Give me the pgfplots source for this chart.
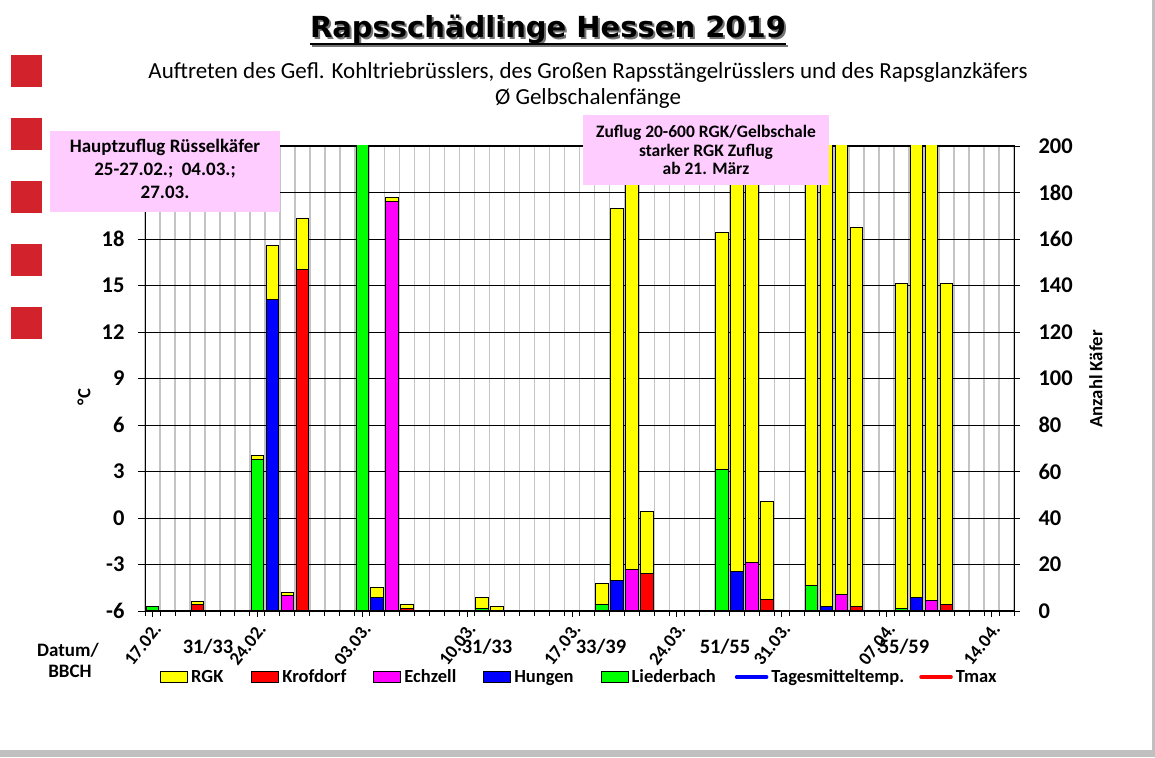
\documentclass[border=0pt]{standalone}
\usepackage{fontspec}
\setmainfont{Carlito}
\newfontfamily\titlefont{DejaVu Sans}
\usepackage{pgfplots}
\pgfplotsset{compat=1.18}
\usepackage{pgfplotstable}
\definecolor{pinkbox}{HTML}{FFCCFF}
\definecolor{sq}{RGB}{210,35,45}
\definecolor{gridgray}{HTML}{C4C4C4}
\definecolor{framegray}{HTML}{C0C0C0}
\definecolor{cY}{RGB}{255,255,0}
\definecolor{cR}{RGB}{255,0,0}
\definecolor{cM}{RGB}{255,0,255}
\definecolor{cB}{RGB}{0,0,255}
\definecolor{cG}{RGB}{0,255,0}
\newcommand{\fs}[1]{\fontsize{#1}{#1}\selectfont}
\pgfplotsset{
  boxlegend/.style={legend image code/.code={\draw[##1] (0pt,-5.5pt) rectangle (27pt,5.5pt);}},
  linelegend/.style={legend image code/.code={\draw[##1] (0pt,0pt) -- (30pt,0pt);}},
}
\pgfplotstableread{
s L H E K R
0 2 0 0 0 0
3 0 0 0 2.7 1.2
7 65 0 0 0 2
8 0 134 0 0 23
9 0 0 6.5 0 1.5
10 0 0 0 147 22
14 250 0 0 0 0
15 0 6 0 0 4
16 0 0 176 0 2
17 0 0 0 1 2
22 1 0 0 0 4.7
23 0 0 0 0 2
30 3 0 0 0 9
31 0 13 0 0 160
32 0 0 18 0 250
33 0 0 0 16 27
38 61 0 0 0 102
39 0 17 0 0 250
40 0 0 21 0 250
41 0 0 0 5 42
44 11 0 0 0 250
45 0 2 0 0 250
46 0 0 7 0 250
47 0 0 0 2 163
50 1 0 0 0 140
51 0 6 0 0 250
52 0 0 4.7 0 250
53 0 0 0 3 138
}\data
\begin{document}
\begin{tikzpicture}[x=1pt,y=1pt]
\path[use as bounding box] (0,0) rectangle (1155,757);
\fill[white] (0,0) rectangle (1155,757);
\fill[framegray] (1152,0) rectangle (1155,757);
\fill[framegray] (0,0) rectangle (1155,7);
\foreach \t in {55,118,181,244,307}{
  \fill[sq] (11,{757-\t-32}) rectangle (42,{757-\t});
}
% title
\node[anchor=base, inner sep=0, font=\titlefont\bfseries\fs{29}, text=black!55] (TS) at (550,717) {Rapsschädlinge Hessen 2019};
\draw[black!55, line width=2.5pt] ([yshift=-6pt]TS.base west) -- ([yshift=-6pt]TS.base east);
\node[anchor=base, inner sep=0, font=\titlefont\bfseries\fs{29}] (T) at (548,719) {Rapsschädlinge Hessen 2019};
\draw[black, line width=2.5pt] ([yshift=-6pt]T.base west) -- ([yshift=-6pt]T.base east);
\node[anchor=base, inner sep=0, font=\fs{23}] at (588,678) {Auftreten des Gefl. Kohltriebrüsslers, des Großen Rapsstängelrüsslers und des Rapsglanzkäfers};
\node[anchor=base, inner sep=0, font=\fs{23}] at (588,652) {Ø Gelbschalenfänge};

\begin{axis}[
  at={(145pt,146pt)}, anchor=south west,
  width=869pt, height=465pt, scale only axis,
  xmin=-0.5, xmax=57.5, ymin=0, ymax=200,
  enlargelimits=false,
  ybar stacked, bar width=12.5pt,
  xtick={0,7,...,56},
  xticklabels={17.02.,24.02.,03.03.,10.03.,17.03.,24.03.,31.03.,07.04.,14.04.},
  minor xtick={-0.5,0.5,...,57.5},
  xtick pos=left,
  ytick={0,20,...,200}, ytick pos=right, yticklabel pos=right,
  yticklabels={0,20,40,60,80,100,120,140,160,180,200},
  tick align=outside,
  major tick length=6pt, minor tick length=5pt,
  xmajorgrids=false, xminorgrids, ymajorgrids,
  minor grid style={gridgray, line width=1.5pt},
  major grid style={black, line width=0.8pt},
  axis line style={black, line width=1pt},
  tick style={black, line width=0.8pt},
  yticklabel style={font=\bfseries\fs{22.5}, anchor=west, xshift=15pt},
  xticklabel style={xshift=7pt, yshift=-6pt, rotate=52, anchor=east, font=\bfseries\fs{18.5}},
  ylabel={Anzahl Käfer},
  ylabel style={font=\bfseries\fs{18.7}, at={(axis description cs:1.0943,0.499)}, anchor=center},
  every axis plot/.append style={draw=black, line width=1pt},
]
\addplot[fill=cG] table[x=s, y=L] \data;
\addplot[fill=cB] table[x=s, y=H] \data;
\addplot[fill=cM] table[x=s, y=E] \data;
\addplot[fill=cR] table[x=s, y=K] \data;
\addplot[fill=cY] table[x=s, y=R] \data;
\end{axis}

\begin{axis}[
  at={(145pt,146pt)}, anchor=south west,
  width=869pt, height=465pt, scale only axis,
  xmin=-0.5, xmax=57.5, ymin=-6, ymax=24,
  enlargelimits=false,
  axis x line*=bottom, axis y line*=left,
  xtick=\empty,
  minor xtick={0,1,...,57},
  minor tick length=5pt,
  ytick={-6,-3,...,18},
  yticklabels={-6,-3,0,3,6,9,12,15,18},
  tick align=outside, major tick length=7pt,
  axis line style={black, line width=1pt},
  tick style={black, line width=0.8pt},
  yticklabel style={font=\bfseries\fs{22.5}, anchor=east, xshift=-10pt},
  ylabel={°C},
  ylabel style={font=\bfseries\fs{18.7}, at={(axis description cs:-0.0702,0.46)}, anchor=center},
  legend columns=7,
  legend cell align=left,
  legend style={at={(axis description cs:0.01726,-0.1419)}, anchor=west, draw=none, fill=none,
    inner sep=0pt, font=\bfseries\fs{18.5},
    nodes={inner sep=0pt},
    /tikz/column 1/.style={column sep=3pt},
    /tikz/column 2/.style={column sep=28pt},
    /tikz/column 3/.style={column sep=3pt},
    /tikz/column 4/.style={column sep=27pt},
    /tikz/column 5/.style={column sep=3pt},
    /tikz/column 6/.style={column sep=27pt},
    /tikz/column 7/.style={column sep=3pt},
    /tikz/column 8/.style={column sep=27pt},
    /tikz/column 9/.style={column sep=3pt},
    /tikz/column 10/.style={column sep=19pt},
    /tikz/column 11/.style={column sep=3pt},
    /tikz/column 12/.style={column sep=15pt},
    /tikz/column 13/.style={column sep=3pt}},
]
\addlegendimage{boxlegend, fill=cY, draw=black, line width=1pt}
\addlegendentry{RGK}
\addlegendimage{boxlegend, fill=cR, draw=black, line width=1pt}
\addlegendentry{Krofdorf}
\addlegendimage{boxlegend, fill=cM, draw=black, line width=1pt}
\addlegendentry{Echzell}
\addlegendimage{boxlegend, fill=cB, draw=black, line width=1pt}
\addlegendentry{Hungen}
\addlegendimage{boxlegend, fill=cG, draw=black, line width=1pt}
\addlegendentry{Liederbach}
\addlegendimage{linelegend, cB, line width=3.5pt, line cap=round}
\addlegendentry{Tagesmitteltemp.}
\addlegendimage{linelegend, cR, line width=3.5pt, line cap=round}
\addlegendentry{Tmax}
\end{axis}

% pink boxes
\fill[pinkbox] (50,545) rectangle (280,626);
\node[anchor=base, inner sep=0, font=\bfseries\fs{19}] at (165,604) {Hauptzuflug Rüsselkäfer};
\node[anchor=base, inner sep=0, font=\bfseries\fs{19}] at (165,581) {25-27.02.;\ \ 04.03.;};
\node[anchor=base, inner sep=0, font=\bfseries\fs{19}] at (165,558) {27.03.};
\fill[pinkbox] (583,572) rectangle (829,642);
\node[anchor=base, inner sep=0, font=\bfseries\fs{17.5}] at (706,619) {Zuflug 20-600 RGK/Gelbschale};
\node[anchor=base, inner sep=0, font=\bfseries\fs{17.5}] at (706,600) {starker RGK Zuflug};
\node[anchor=base, inner sep=0, font=\bfseries\fs{17.5}] at (706,582) {ab 21. März};

% BBCH
\foreach \x/\l in {208/31\slash 33,487/31\slash 33,601/33\slash 39,725/51\slash 55,904/55\slash 59}{
  \node[anchor=base, inner sep=0, font=\bfseries\fs{20.5}] at (\x,103) {\l};
}
\node[anchor=base, inner sep=0, font=\bfseries\fs{19}] at (68,100) {Datum/};
\node[anchor=base, inner sep=0, font=\bfseries\fs{19}] at (70,79) {BBCH};
\end{tikzpicture}
\end{document}
